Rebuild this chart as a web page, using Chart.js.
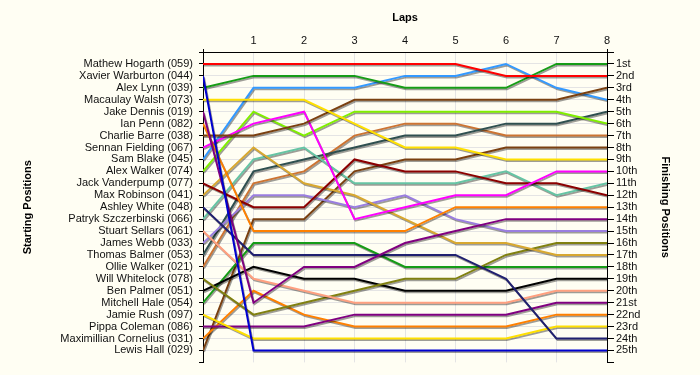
<!DOCTYPE html>
<html>
<head>
<meta charset="utf-8">
<script src="https://cdn.jsdelivr.net/npm/chart.js@4.4.1/dist/chart.umd.min.js"></script>
<style>
  html, body { margin: 0; padding: 0; background: #fffef3; }
  #wrap { width: 700px; height: 375px; }
</style>
</head>
<body>
<div id="wrap"><canvas id="lapChart" width="700" height="375"></canvas></div>
<script>
// Lap chart data: position of each driver at laps 0..8
const laps = [0, 1, 2, 3, 4, 5, 6, 7, 8];

const drivers = [
    'Mathew Hogarth (059)', 'Xavier Warburton (044)', 'Alex Lynn (039)', 'Macaulay Walsh (073)',
    'Jake Dennis (019)', 'Ian Penn (082)', 'Charlie Barre (038)', 'Sennan Fielding (067)',
    'Sam Blake (045)', 'Alex Walker (074)', 'Jack Vanderpump (077)', 'Max Robinson (041)',
    'Ashley White (048)', 'Patryk Szczerbinski (066)', 'Stuart Sellars (061)', 'James Webb (033)',
    'Thomas Balmer (053)', 'Ollie Walker (021)', 'Will Whitelock (078)', 'Ben Palmer (051)',
    'Mitchell Hale (054)', 'Jamie Rush (097)', 'Pippa Coleman (086)', 'Maximillian Cornelius (031)',
    'Lewis Hall (029)'
];

const positions = [
    [1, 1, 1, 1, 1, 1, 2, 2, 2],
    [2, 25, 25, 25, 25, 25, 25, 25, 25],
    [3, 2, 2, 2, 3, 3, 3, 1, 1],
    [4, 4, 4, 6, 8, 8, 9, 9, 9],
    [5, 21, 18, 18, 16, 15, 14, 14, 14],
    [6, 15, 15, 15, 15, 13, 13, 13, 13],
    [7, 7, 6, 4, 4, 4, 4, 4, 3],
    [8, 6, 5, 14, 13, 12, 12, 10, 10],
    [9, 3, 3, 3, 2, 2, 1, 3, 4],
    [10, 5, 7, 5, 5, 5, 5, 5, 6],
    [11, 13, 13, 9, 10, 10, 11, 11, 12],
    [12, 8, 11, 12, 14, 16, 16, 17, 17],
    [13, 17, 17, 17, 17, 17, 19, 24, 24],
    [14, 9, 8, 11, 11, 11, 10, 12, 11],
    [15, 19, 20, 21, 21, 21, 21, 20, 20],
    [16, 12, 12, 13, 12, 14, 15, 15, 15],
    [17, 10, 9, 8, 7, 7, 6, 6, 5],
    [18, 11, 10, 7, 6, 6, 7, 7, 7],
    [19, 22, 21, 20, 19, 19, 17, 16, 16],
    [20, 18, 19, 19, 20, 20, 20, 19, 19],
    [21, 16, 16, 16, 18, 18, 18, 18, 18],
    [22, 24, 24, 24, 24, 24, 24, 23, 23],
    [23, 23, 23, 22, 22, 22, 22, 21, 21],
    [24, 20, 22, 23, 23, 23, 23, 22, 22],
    [25, 14, 14, 10, 9, 9, 8, 8, 8]
];

const finishLabels = [
    '1st', '2nd', '3rd', '4th', '5th', '6th', '7th', '8th', '9th', '10th',
    '11th', '12th', '13th', '14th', '15th', '16th', '17th', '18th', '19th', '20th',
    '21st', '22nd', '23rd', '24th', '25th'
];

const lineColors = [
    '#ff0000', '#0000d0', '#169c16', '#ffe000', '#800080', '#ff8000', '#7a4010', '#ff00ff',
    '#3399ff', '#80ee00', '#8b0000', '#d8a830', '#202070', '#66c4a4', '#ffa080', '#9a7ee0',
    '#2f4f4f', '#cc7433', '#808010', '#000000', '#169c16', '#ffe000', '#800080', '#ff8000',
    '#7a4010'
];

const bgColor = '#fffef3';
const gridColor = '#e4e4e4';
const textColor = '#111111';

const baseFont = { family: 'Liberation Sans, Arial, sans-serif', size: 11 };
const titleFont = { family: 'Liberation Sans, Arial, sans-serif', size: 11, weight: 'bold' };

// background fill
const backgroundPlugin = {
    id: 'background',
    beforeDraw(chart) {
        const ctx = chart.ctx;
        ctx.save();
        ctx.fillStyle = bgColor;
        ctx.fillRect(0, 0, chart.width, chart.height);
        ctx.restore();
    }
};

// small drop shadow under each line
const shadowPlugin = {
    id: 'lineShadow',
    beforeDatasetDraw(chart) {
        const ctx = chart.ctx;
        ctx.save();
        ctx.shadowColor = 'rgba(0, 0, 0, 0.38)';
        ctx.shadowOffsetX = 1;
        ctx.shadowOffsetY = 1.5;
        ctx.shadowBlur = 0;
    },
    afterDatasetDraw(chart) {
        chart.ctx.restore();
    }
};

const datasets = drivers.map((name, i) => ({
    label: name,
    data: positions[i].map((p, j) => ({ x: laps[j], y: p })),
    borderColor: lineColors[i],
    backgroundColor: lineColors[i],
    borderWidth: 2,
    pointRadius: 0,
    tension: 0,
    fill: false
}));

const ctx = document.getElementById('lapChart').getContext('2d');

new Chart(ctx, {
    type: 'line',
    data: { datasets: datasets },
    options: {
        responsive: false,
        animation: false,
        devicePixelRatio: 1,
        layout: { padding: { left: 0, right: 0, top: 0, bottom: 11 } },
        plugins: {
            legend: { display: false },
            tooltip: { enabled: false }
        },
        scales: {
            x: {
                type: 'linear',
                position: 'top',
                min: 0,
                max: 8,
                afterFit: (scale) => { scale.height = 52; },
                ticks: {
                    stepSize: 1,
                    padding: 1,
                    color: textColor,
                    font: baseFont,
                    callback: (v) => v === 0 ? '' : String(v)
                },
                grid: {
                    color: (c) => (c.tick && (c.tick.value === 0 || c.tick.value === 8)) ? 'rgba(0,0,0,0)' : gridColor,
                    tickColor: (c) => (c.tick && (c.tick.value === 0 || c.tick.value === 8)) ? '#000' : 'rgba(0,0,0,0)',
                    tickLength: 3,
                    lineWidth: 1
                },
                border: { display: true, color: '#000', width: 1 },
                title: {
                    display: true,
                    text: 'Laps',
                    color: '#000',
                    font: titleFont,
                    padding: { top: 11, bottom: 0 }
                }
            },
            y: {
                type: 'linear',
                position: 'left',
                reverse: true,
                min: 0,
                max: 26,
                afterFit: (scale) => { scale.width = 203; },
                ticks: {
                    stepSize: 1,
                    autoSkip: false,
                    padding: 6,
                    color: textColor,
                    font: baseFont,
                    callback: (v) => drivers[v - 1] || ''
                },
                grid: {
                    color: (c) => (c.tick && c.tick.value >= 1 && c.tick.value <= 25) ? gridColor : 'rgba(0,0,0,0)',
                    tickColor: '#000',
                    tickLength: 4,
                    lineWidth: 1
                },
                border: { display: true, color: '#000', width: 1 },
                title: {
                    display: true,
                    text: 'Starting Positions',
                    color: '#000',
                    font: titleFont,
                    padding: { top: 21, bottom: 0 }
                }
            },
            y2: {
                type: 'linear',
                position: 'right',
                reverse: true,
                min: 0,
                max: 26,
                afterFit: (scale) => { scale.width = 93; },
                ticks: {
                    stepSize: 1,
                    autoSkip: false,
                    padding: 2,
                    color: textColor,
                    font: baseFont,
                    callback: (v) => finishLabels[v - 1] || ''
                },
                grid: {
                    drawOnChartArea: false,
                    tickColor: '#000',
                    tickLength: 7
                },
                border: { display: true, color: '#000', width: 1 },
                title: {
                    display: true,
                    text: 'Finishing Positions',
                    color: '#000',
                    font: titleFont,
                    padding: { top: 28, bottom: 0 }
                }
            }
        }
    },
    plugins: [backgroundPlugin, shadowPlugin]
});
</script>
</body>
</html>
